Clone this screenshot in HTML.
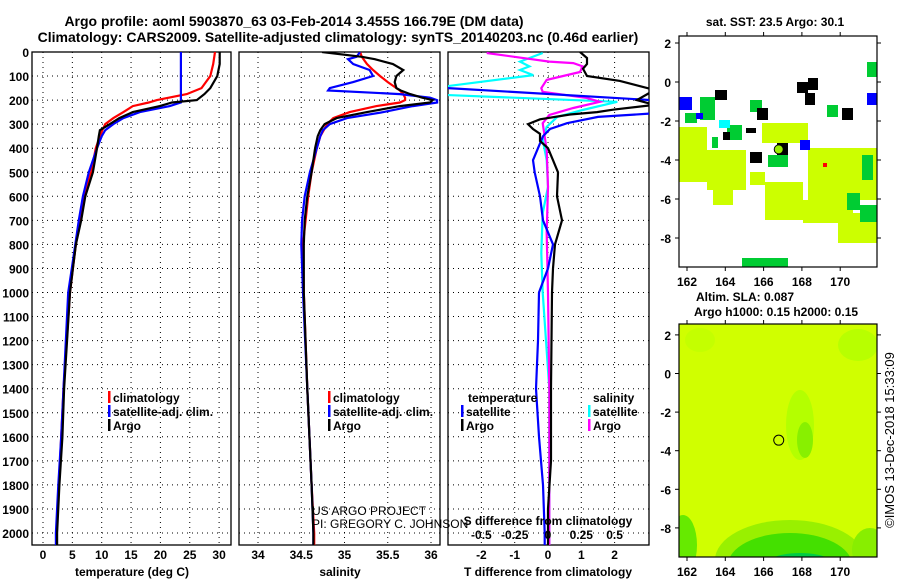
<!DOCTYPE html>
<html><head><meta charset="utf-8">
<style>
html,body{margin:0;padding:0;background:#fff;}
svg{display:block;font-family:"Liberation Sans",sans-serif;}
.b{font-weight:bold;font-size:12px;}
.t{font-weight:bold;font-size:14px;}
</style></head>
<body>
<svg id="chart" width="900" height="580" viewBox="0 0 900 580">
<text class="t" x="294" y="26" text-anchor="middle">Argo profile: aoml 5903870_63 03-Feb-2014 3.455S 166.79E (DM data)</text>
<text class="t" x="338" y="42" text-anchor="middle">Climatology: CARS2009. Satellite-adjusted climatology: synTS_20140203.nc (0.46d earlier)</text>
<defs>
<clipPath id="c1"><rect x="32" y="52" width="199" height="493"/></clipPath>
<clipPath id="c2"><rect x="239" y="52" width="201" height="493"/></clipPath>
<clipPath id="c3"><rect x="448" y="52" width="201" height="493"/></clipPath>
<clipPath id="cm2"><rect x="679" y="324" width="198" height="233"/></clipPath>
</defs>
<g id="p1"></g>
<g id="p2"></g>
<g id="p3"></g>
<g id="m1"></g>
<g id="m2"></g>
<text x="312" y="515" font-size="12">US ARGO PROJECT</text>
<text x="312" y="528" font-size="12">PI: GREGORY C. JOHNSON</text>
<text class="b" x="775" y="26" text-anchor="middle">sat. SST: 23.5 Argo: 30.1</text>
<text class="b" x="745" y="301" text-anchor="middle">Altim. SLA: 0.087</text>
<text class="b" x="776" y="316" text-anchor="middle">Argo h1000: 0.15 h2000: 0.15</text>
<text font-size="13" transform="translate(894,440) rotate(-90)" text-anchor="middle">©IMOS 13-Dec-2018 15:33:09</text>
</svg>
<script>
// ---------------- data ----------------
const tDepth = [0,50,100,150,175,200,210,225,250,275,300,325,350,400,500,600,700,800,900,1000,1400,1600,1800,2000,2050];
const tArgo  = [30.1,30.1,29.7,28.5,27.5,26.2,22,19.9,15.3,13,11.4,9.7,9.5,9.2,8.5,7.2,6.5,5.6,5.1,4.6,3.6,3.3,2.8,2.4,2.4];
const tClim  = [29.3,29,28.5,27,24.5,19.4,18,15.3,13.7,12,10.6,10.1,9.7,9,8.2,7,6.3,5.6,5.1,4.6,3.5,3.1,2.7,2.3,2.3];
const tSat   = [23.5,23.5,23.5,23.5,23.5,23.5,23.5,21.6,16.5,13.7,12,10.6,10,9.2,7.8,6.8,6.1,5.5,4.9,4.3,3.5,3.1,2.6,2.2,2.2];

const sDepth = [0,20,30,50,75,100,125,150,160,175,190,200,210,225,250,275,300,325,350,400,500,600,700,800,1000,1400,1800,2000,2050];
const sArgo  = [34.74,35.2,35.35,35.56,35.68,35.6,35.58,35.6,35.65,35.76,35.9,36.02,35.99,35.64,35.26,34.91,34.77,34.72,34.69,34.66,34.62,34.57,34.54,34.53,34.53,34.57,34.62,34.64,34.64];
const sClim  = [35.18,35.2,35.22,35.26,35.33,35.41,35.5,35.6,35.64,35.68,35.7,35.7,35.64,35.37,35.06,34.87,34.8,34.76,34.72,34.68,34.62,34.58,34.55,34.52,34.53,34.57,34.62,34.65,34.65];
const sSat   = [35.18,35.14,35.04,35.1,35.29,35.33,35.1,34.83,34.81,35.64,35.99,36.07,36.07,35.79,35.45,35.03,34.83,34.75,34.72,34.68,34.6,34.54,34.51,34.5,34.52,34.57,34.62,34.64,34.64];

const dTDepthA = [0,25,50,70,100,120,158,200,220,240,250,260,280,300,320,340,370,400,450,500,600,700,800,900,1000,1400,1700,1900,2000,2050];
const dTArgo   = [0.96,1.17,1.17,1.05,1.17,2.16,3.2,2.67,3.2,1.95,1.47,0.66,-0.24,-0.6,-0.45,-0.24,-0.24,0,0.15,0.3,0.27,0.42,0.21,0.15,0.12,0.09,0.09,0,0,0];
const dTDepthS = [0,140,150,200,255,270,296,320,350,400,450,500,600,700,800,900,1000,1200,1400,1600,1800,2000,2050];
const dTSat    = [-5.5,-5.5,-3.0,3.1,3.2,1.5,0.57,0.06,-0.15,-0.3,-0.45,-0.4,-0.24,-0.15,0.15,0,-0.27,-0.3,-0.36,-0.27,-0.15,-0.1,-0.1];
const dSDepthS = [4,40,60,75,96,145,178,207,241,270,311,366,449,561,670,836,1000,1400,2000,2050];
const dSSat    = [-0.04,-0.21,-0.14,-0.21,-0.11,-0.8,-0.8,0.52,0.26,0.07,-0.01,-0.04,-0.01,0,-0.04,-0.05,-0.04,0.01,0.01,0.01];
const dSDepthA = [4,40,46,60,83,116,150,166,191,207,233,262,296,407,561,753,1000,1400,2000,2050];
const dSArgo   = [-0.46,0.01,0.19,0.26,0.24,-0.01,-0.05,-0.04,0.29,0.39,0.19,0.01,-0.04,-0.01,0,-0.01,0,0.01,0.01,0.01];

const depthTicks = [0,100,200,300,400,500,600,700,800,900,1000,1100,1200,1300,1400,1500,1600,1700,1800,1900,2000];
const tTicks = [0,5,10,15,20,25,30];
const sTicks = [34,34.5,35,35.5,36];
const dtTicks = [-2,-1,0,1,2];
const dsTicks = [-0.5,-0.25,0,0.25,0.5];
const lonTicks = [162,164,166,168,170];
const latTicks = [2,0,-2,-4,-6,-8];

// ---------------- helpers ----------------
const NS="http://www.w3.org/2000/svg";
function mk(tag,attrs,parent){const e=document.createElementNS(NS,tag);for(const k in attrs)e.setAttribute(k,attrs[k]);parent.appendChild(e);return e;}
const Y = d => 52 + d*0.2405;
const xT = v => 43 + v*5.87;
const xS = v => 258 + (v-34)*86.5;
const xDT = v => 548 + v*33.3;
const xDS = v => 548 + v*133.2;
const mlon = v => 687 + (v-162)*19.15;
const mlat1 = v => 82 - v*19.5;
const mlat2 = v => 373.5 - v*19.3;

function panel(g,x0,x1,xs,ticks,tickFmt,labelDepth){
  const bot=545;
  depthTicks.forEach(d=>{
    const l=mk('line',{x1:x0,x2:x1,y1:Y(d),y2:Y(d),stroke:'#000','stroke-dasharray':'1,4'},g);
    
    if(labelDepth){const t=mk('text',{x:29,y:Y(d)+5,'text-anchor':'end',class:'b'},g);t.textContent=d;
      }
  });
  ticks.forEach(v=>{
    const l=mk('line',{x1:xs(v),x2:xs(v),y1:52,y2:bot,stroke:'#000','stroke-dasharray':'1,4'},g);
    
    const t=mk('text',{x:xs(v),y:559,'text-anchor':'middle',class:'b'},g);t.textContent=tickFmt(v);
    
  });
  const r=mk('rect',{x:x0,y:52,width:x1-x0,height:bot-52,fill:'none',stroke:'#000','stroke-width':1.3},g);
  
}
function line(g,clip,depths,vals,xs,color,name){
  const pts=depths.map((d,i)=>xs(vals[i]).toFixed(1)+','+Y(d).toFixed(1)).join(' ');
  const p=mk('polyline',{points:pts,fill:'none',stroke:color,'stroke-width':2.2,'clip-path':'url(#'+clip+')'},g);
  
}
function txt(g,x,y,s,cls,name,anchor){const t=mk('text',{x:x,y:y,class:cls||'b','text-anchor':anchor||'start'},g);t.textContent=s;
  return t;}
function legend(g,x,y,color,label,name){
  const r=mk('rect',{x:x,y:y-11,width:2.5,height:12,fill:color},g);
  
  txt(g,x+5,y,label,'b',name);
}

// panel 1
const p1=document.getElementById('p1');
panel(p1,32,231,xT,tTicks,v=>v,true);
line(p1,'c1',tDepth,tClim,xT,'#f00','temp-climatology-line');
line(p1,'c1',tDepth,tSat,xT,'#00f','temp-satellite-line');
line(p1,'c1',tDepth,tArgo,xT,'#000','temp-argo-line');
txt(p1,132,576,'temperature (deg C)','b','temperature-axis-title','middle');
legend(p1,108,402,'#f00','climatology','legend-climatology');
legend(p1,108,416,'#00f','satellite-adj. clim.','legend-satellite');
legend(p1,108,430,'#000','Argo','legend-argo');

// panel 2
const p2=document.getElementById('p2');
panel(p2,239,440,xS,sTicks,v=>v,false);
line(p2,'c2',sDepth,sClim,xS,'#f00','sal-climatology-line');
line(p2,'c2',sDepth,sSat,xS,'#00f','sal-satellite-line');
line(p2,'c2',sDepth,sArgo,xS,'#000','sal-argo-line');
txt(p2,340,576,'salinity','b','salinity-axis-title','middle');
legend(p2,328,402,'#f00','climatology','legend2-climatology');
legend(p2,328,416,'#00f','satellite-adj. clim.','legend2-satellite');
legend(p2,328,430,'#000','Argo','legend2-argo');

// panel 3
const p3=document.getElementById('p3');
panel(p3,448,649,xDT,dtTicks,v=>v,false);
line(p3,'c3',dSDepthS,dSSat,xDS,'#0ff','s-diff-satellite-line');
line(p3,'c3',dSDepthA,dSArgo,xDS,'#f0f','s-diff-argo-line');
line(p3,'c3',dTDepthS,dTSat,xDT,'#00f','t-diff-satellite-line');
line(p3,'c3',dTDepthA,dTArgo,xDT,'#000','t-diff-argo-line');
txt(p3,548,576,'T difference from climatology','b','t-diff-axis-title','middle');
txt(p3,548,525,'S difference from climatology','b','s-diff-axis-title','middle');
dsTicks.forEach(v=>txt(p3,xDS(v),539,String(v),'b','s-diff-tick-label','middle'));
txt(p3,468,402,'temperature','b','legend3-temperature-header');
legend(p3,461,416,'#00f','satellite','legend3-t-satellite');
legend(p3,461,430,'#000','Argo','legend3-t-argo');
txt(p3,593,402,'salinity','b','legend3-salinity-header');
legend(p3,588,416,'#0ff','satellite','legend3-s-satellite');
legend(p3,588,430,'#f0f','Argo','legend3-s-argo');

// map axes
function mapAxes(g,y0,y1,latf){
  lonTicks.forEach(v=>{
    mk('line',{x1:mlon(v),x2:mlon(v),y1:y1,y2:y1+4,stroke:'#000'},g);
    mk('line',{x1:mlon(v),x2:mlon(v),y1:y0,y2:y0-4,stroke:'#000'},g);
    txt(g,mlon(v),y1+19,String(v),'b','lon-tick-label','middle');
  });
  latTicks.forEach(v=>{
    mk('line',{x1:675,x2:679,y1:latf(v),y2:latf(v),stroke:'#000'},g);
    mk('line',{x1:877,x2:881,y1:latf(v),y2:latf(v),stroke:'#000'},g);
    txt(g,671,latf(v)+5,String(v),'b','lat-tick-label','end');
  });
  const r=mk('rect',{x:679,y:y0,width:198,height:y1-y0,fill:'none',stroke:'#000','stroke-width':1.2},g);
  
}
// map 1 patches [x0,x1,y0,y1,color]
const m1=document.getElementById('m1');
const Y1='#ccff00',G='#00cc33',K='#000',B='#0000ff',C='#00ffff';
const patches=[
[679,707,127,182,Y1],[707,746,150,190,Y1],[713,733,187,205,Y1],[762,808,123,143,Y1],[750,765,172,185,Y1],
[765,803,182,220,Y1],[808,877,148,200,Y1],[803,853,200,223,Y1],[838,877,213,243,Y1],
[768,788,155,167,G],[867,877,62,77,G],[750,762,100,112,G],[827,838,105,117,G],[700,715,97,120,G],
[685,697,113,123,G],[727,742,125,140,G],[712,718,137,148,G],[862,873,155,180,G],[847,860,193,210,G],[860,877,205,222,G],[742,788,258,267,G],
[679,692,97,110,B],[867,877,93,105,B],[800,810,140,150,B],[696,703,113,119,B],[719,730,120,128,C],
[715,727,90,100,K],[797,808,82,93,K],[808,818,78,90,K],[805,815,93,105,K],[757,768,108,120,K],[842,853,108,120,K],
[750,762,152,163,K],[777,788,143,155,K],[723,730,132,140,K],[746,756,128,133,K],[823,827,163,167,'#f00']];
patches.forEach(p=>{const r=mk('rect',{x:p[0],y:p[2],width:p[1]-p[0],height:p[3]-p[2],fill:p[4]},m1);
  });
const c1=mk('circle',{cx:mlon(166.79),cy:mlat1(-3.455),r:4.5,fill:'#99ee00',stroke:'#000'},m1);

mapAxes(m1,36,267,mlat1);

// map 2
const m2=document.getElementById('m2');
const bg=mk('rect',{x:679,y:324,width:198,height:233,fill:'#d0ff00'},m2);

const blobs=[[800,425,14,35,'#b4ff00'],[805,440,8,18,'#88f000'],[858,345,20,16,'#b8ff00'],[700,340,15,12,'#c4ff00'],
[790,560,75,40,'#99f000'],[790,565,62,32,'#44e000'],[800,575,45,22,'#00cc44'],[683,545,14,30,'#66ea00'],[870,550,18,22,'#88ee00']];
blobs.forEach(b=>{const e=mk('ellipse',{cx:b[0],cy:b[1],rx:b[2],ry:b[3],fill:b[4],'clip-path':'url(#cm2)'},m2);
  });
const c2=mk('circle',{cx:mlon(166.79),cy:mlat2(-3.455),r:5,fill:'none',stroke:'#000'},m2);

mapAxes(m2,324,557,mlat2);
</script>
</body></html>
